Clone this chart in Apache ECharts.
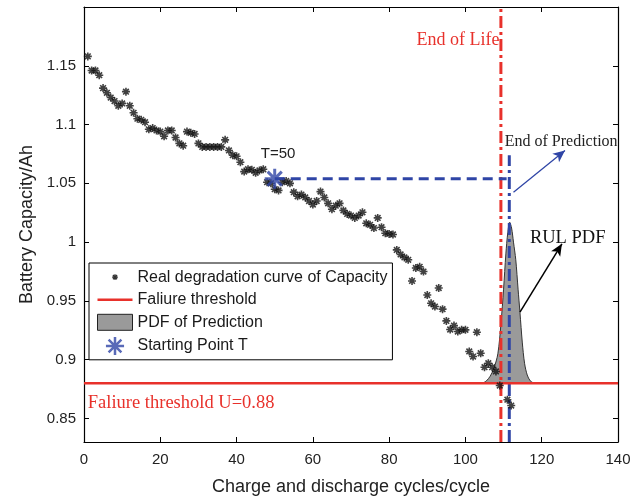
<!DOCTYPE html>
<html><head><meta charset="utf-8">
<script src="https://cdn.jsdelivr.net/npm/echarts@6/dist/echarts.min.js"></script>
<style>html,body{margin:0;padding:0;background:#fff}#c{width:642px;height:503px}</style>
</head><body><div id="c"></div>
<script>
// ---- data ----
const cycles = [1,2,3,4,5,6,7,8,9,10,11,12,13,14,15,16,17,18,19,20,21,22,23,24,25,26,27,28,29,30,31,32,33,34,35,36,37,38,39,40,41,42,43,44,45,46,47,48,49,50,51,52,53,54,55,56,57,58,59,60,61,62,63,64,65,66,67,68,69,70,71,72,73,74,75,76,77,78,79,80,81,82,83,84,85,86,87,88,89,90,91,92,93,94,95,96,97,98,99,100,101,102,103,104,105,106,107,108,109,111,112];
const capacity = [1.158,1.146,1.146,1.142,1.131,1.127,1.123,1.120,1.116,1.118,1.128,1.116,1.110,1.105,1.104,1.102,1.096,1.097,1.095,1.094,1.090,1.095,1.095,1.089,1.084,1.082,1.094,1.093,1.092,1.084,1.081,1.081,1.081,1.081,1.081,1.081,1.087,1.078,1.074,1.073,1.068,1.060,1.062,1.0615,1.059,1.061,1.062,1.051,1.050,1.045,1.044,1.051,1.052,1.050,1.0425,1.039,1.0405,1.038,1.035,1.032,1.035,1.043,1.038,1.033,1.028,1.031,1.033,1.027,1.024,1.0226,1.0206,1.0226,1.0254,1.016,1.0147,1.012,1.0206,1.0127,1.0076,1.007,1.0065,0.9934,0.9895,0.987,0.985,0.967,0.978,0.979,0.975,0.955,0.948,0.9452,0.961,0.943,0.933,0.9257,0.929,0.924,0.9254,0.9254,0.907,0.9027,0.9234,0.9055,0.8936,0.897,0.8936,0.890,0.878,0.866,0.861];
const pdfX = [104.5,105.5,106.5,107.5,108.5,109.3,110.0,110.6,111.1,111.6,112.1,112.6,113.2,113.8,114.3,114.9,115.5,116.2,117.0,118.0];
const pdfY = [0.880,0.882,0.886,0.893,0.905,0.930,0.960,0.990,1.008,1.017,1.012,1.000,0.985,0.960,0.940,0.915,0.897,0.887,0.882,0.880];
const threshold = 0.88;
const startT = [50, 1.054];
const eolCycle = 109.3;
const eopCycle = 111.5;
const eopTop = 1.074;
const predLineEnd = 110.8;
const xTicks = [0,20,40,60,80,100,120,140];
const yTicks = [0.85,0.9,0.95,1,1.05,1.1,1.15];
const xRange = [0,140];
const yRange = [0.83,1.2];

const scatterData = cycles.map((c,i)=>[c,capacity[i]]);
const pdfData = pdfX.map((x,i)=>[x,pdfY[i]]);

const star = 'path://M0,-10L0,10M-10,0L10,0M-7.07,-7.07L7.07,7.07M-7.07,7.07L7.07,-7.07';
const starSmallIcon = 'path://M-26,-26M26,26M0,-8L0,8M-8,0L8,0M-5.66,-5.66L5.66,5.66M-5.66,5.66L5.66,-5.66';
const starBigIcon = 'path://M-10.5,-10.5M10.5,10.5M0,-10L0,10M-10,0L10,0M-7.07,-7.07L7.07,7.07M-7.07,7.07L7.07,-7.07';
const lineIcon = 'path://M0,0M0,19M0,8.3H35V10.7H0Z';
const rectIcon = 'path://M0,0M0,19M0,1.5H35V17.5H0Z';
const RED = '#e8312b', BLUE = '#2f45a6';
const SANS = 'Liberation Sans, Arial, sans-serif';
const SERIF = 'Liberation Serif, Times New Roman, serif';

const chart = echarts.init(document.getElementById('c'));
const axisCommon = {
  type:'value', axisLine:{show:true,onZero:false,lineStyle:{color:'#000',width:1.2}},
  axisTick:{show:true,inside:true,length:5,lineStyle:{color:'#000'}},
  splitLine:{show:false}
};
chart.setOption({
  animation:false,
  grid:{left:84,right:24,top:7,bottom:61},
  xAxis:[
    Object.assign({},axisCommon,{position:'bottom',min:xRange[0],max:xRange[1],interval:20,
      axisLabel:{color:'#222',fontFamily:SANS,fontSize:15,margin:10},
      name:'Charge and discharge cycles/cycle',nameLocation:'middle',nameGap:36,
      nameTextStyle:{color:'#222',fontFamily:SANS,fontSize:18}}),
    Object.assign({},axisCommon,{position:'top',min:xRange[0],max:xRange[1],interval:20,axisLabel:{show:false}})
  ],
  yAxis:[
    Object.assign({},axisCommon,{position:'left',min:yRange[0],max:yRange[1],
      axisTick:{show:true,inside:true,length:5,lineStyle:{color:'#000'},customValues:yTicks},
      axisLabel:{color:'#222',fontFamily:SANS,fontSize:15,margin:8,customValues:yTicks,formatter:v=>String(+v.toFixed(2))},
      name:'Battery Capacity/Ah',nameLocation:'middle',nameGap:47,
      nameTextStyle:{color:'#222',fontFamily:SANS,fontSize:18}}),
    Object.assign({},axisCommon,{position:'right',min:yRange[0],max:yRange[1],
      axisTick:{show:true,inside:true,length:5,lineStyle:{color:'#000'},customValues:yTicks},
      axisLabel:{show:false,customValues:yTicks}})
  ],
  legend:{
    orient:'vertical',left:89,top:263,padding:[4,5,3,8],itemGap:3,itemWidth:35,itemHeight:19,
    backgroundColor:'#fff',borderColor:'#000',borderWidth:1,borderRadius:0,
    textStyle:{color:'#1a1a1a',fontFamily:SANS,fontSize:16},
    data:[
      {name:'Real degradation curve of Capacity',icon:starSmallIcon,itemStyle:{color:'#000',borderColor:'#000',borderWidth:1.3}},
      {name:'Faliure threshold',icon:lineIcon,itemStyle:{color:RED,borderWidth:0}},
      {name:'PDF of Prediction',icon:rectIcon,itemStyle:{color:'#9a9a9a',borderColor:'#222',borderWidth:1}},
      {name:'Starting Point T',icon:starBigIcon,itemStyle:{color:BLUE,borderColor:BLUE,borderWidth:2.5}}
    ]
  },
  series:[
    {name:'End of Life',type:'line',data:[[eolCycle,yRange[0]],[eolCycle,yRange[1]]],symbol:'none',
      lineStyle:{color:RED,width:3,type:[12,4,3,4]},z:3},
    {name:'PDF of Prediction',type:'line',data:pdfData,symbol:'none',smooth:0.3,
      lineStyle:{color:'#333',width:1},areaStyle:{color:'#9a9a9a',opacity:1,origin:threshold},z:2},
    {name:'End of Prediction',type:'line',data:[[eopCycle,yRange[0]],[eopCycle,eopTop]],symbol:'none',
      lineStyle:{color:BLUE,width:3,type:[12,4,3,4]},z:4},
    {name:'Prediction start',type:'line',data:[[startT[0],startT[1]],[predLineEnd,startT[1]]],symbol:'none',
      lineStyle:{color:BLUE,width:3,type:[10,6]},z:4},
    {name:'Faliure threshold',type:'line',data:[[xRange[0],threshold],[xRange[1],threshold]],symbol:'none',
      lineStyle:{color:RED,width:2.5},z:5},
    {name:'Real degradation curve of Capacity',type:'scatter',data:scatterData,symbol:star,symbolSize:8,
      itemStyle:{color:'#000',borderColor:'#111',borderWidth:1.6},z:6},
    {name:'Starting Point T',type:'scatter',data:[startT],symbol:star,symbolSize:20,
      itemStyle:{color:BLUE,borderColor:BLUE,borderWidth:3},z:7},
    {name:'arrows',type:'line',data:[],markLine:{silent:true,symbol:['none','arrow'],symbolSize:[8,12],label:{show:false},
      data:[
        [{coord:[112.6,1.0424],lineStyle:{color:BLUE,width:1.3,type:'solid'}},{coord:[126.1,1.078]}],
        [{coord:[114.3,0.9404],lineStyle:{color:'#000',width:1.5,type:'solid'}},{coord:[125.3,0.9986]}]
      ]}}
  ]
});

// annotations in data coordinates
const notes = [
  {text:'T=50',at:[50.9,1.0753],font:SANS,size:15,color:'#222',align:'center'},
  {text:'End of Life',at:[108.9,1.172],font:SERIF,size:18,color:RED,align:'right'},
  {text:'End of Prediction',at:[110.3,1.0855],font:SERIF,size:16,color:'#222',align:'left'},
  {text:'RUL PDF',at:[116.9,1.003],font:SERIF,size:18.5,color:'#111',align:'left'},
  {text:'Faliure threshold U=0.88',at:[1.0,0.863],font:SERIF,size:18.5,color:RED,align:'left'}
];
const g = notes.map(n=>{
  const p = chart.convertToPixel({xAxisIndex:0,yAxisIndex:0},n.at);
  return {type:'text',x:p[0],y:p[1],z:20,style:{text:n.text,fontFamily:n.font,fontSize:n.size,fill:n.color,align:n.align,verticalAlign:'middle'}};
});
chart.setOption({graphic:g});
</script></body></html>
